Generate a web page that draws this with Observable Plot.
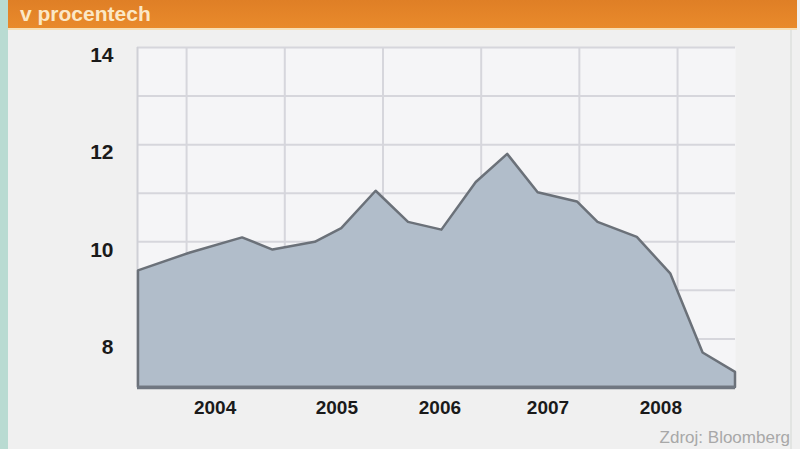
<!DOCTYPE html>
<html>
<head>
<meta charset="utf-8">
<script src="https://cdn.jsdelivr.net/npm/d3@7"></script>
<script src="https://cdn.jsdelivr.net/npm/@observablehq/plot@0.6"></script>
<style>
  html, body { margin: 0; padding: 0; background: #f0f0f0; }
  #wrap { position: relative; width: 800px; height: 449px; overflow: hidden; background: #f0f0f0; font-family: "Liberation Sans", Arial, sans-serif; }
  #strip { position: absolute; left: 0; top: 0; width: 8px; height: 449px; background: #b9dbd2; }
  #rightedge { position: absolute; left: 790px; top: 28px; width: 2px; height: 421px; background: #e2e4e2; }
  #header { position: absolute; left: 8px; top: 0; width: 789px; height: 28px; background: linear-gradient(#df7f26, #e98a2b); border-bottom: 2px solid #f7dfb6; }
  #title { position: absolute; left: 20px; top: 2px; color: #fbe8c6; font-weight: bold; font-size: 21px; line-height: 24px; }
  #chart { position: absolute; left: 0; top: 0; }
  #source { position: absolute; right: 10px; top: 428px; color: #a8a8a8; font-size: 17px; line-height: 20px; }
</style>
</head>
<body>
<div id="wrap">
  <div id="chart"></div>
  <div id="strip"></div>
  <div id="rightedge"></div>
  <div id="header"></div>
  <div id="title">v procentech</div>
  <div id="source">Zdroj: Bloomberg</div>
</div>
<script>
// Time (fractional year) and value in percent
const dates = [2003.51, 2004.04, 2004.57, 2004.88, 2005.31, 2005.58, 2005.93, 2006.26, 2006.60, 2006.95, 2007.27, 2007.58, 2007.98, 2008.19, 2008.59, 2008.93, 2009.26, 2009.59];
const values = [9.40, 9.77, 10.08, 9.83, 9.99, 10.27, 11.04, 10.40, 10.24, 11.22, 11.80, 11.01, 10.82, 10.40, 10.09, 9.34, 7.71, 7.31];
// Axis labels
const yTickLabels = [8, 10, 12, 14];
const yGrid = [8, 9, 10, 11, 12, 13, 14];
const xGrid = [2004, 2005, 2006, 2007, 2008, 2009];
const yearLabels = ["2004", "2005", "2006", "2007", "2008"];
const yearLabelPos = [2004.29, 2005.53, 2006.58, 2007.68, 2008.83];

const data = dates.map((d, i) => ({date: d, value: values[i]}));
const labels = yearLabels.map((t, i) => ({x: yearLabelPos[i], text: t}));

const chart = Plot.plot({
  width: 800,
  height: 449,
  marginTop: 47,
  marginBottom: 62,
  marginLeft: 137,
  marginRight: 65,
  style: {background: "transparent", fontFamily: "Liberation Sans, Arial, sans-serif"},
  x: {domain: [2003.5, 2009.59], axis: null},
  y: {domain: [7, 14], axis: null},
  marks: [
    Plot.frame({fill: "#f5f5f7", stroke: null}),
    Plot.ruleY(yGrid, {stroke: "#d6d6dc", strokeWidth: 2}),
    Plot.ruleX(xGrid, {stroke: "#d6d6dc", strokeWidth: 2}),
    Plot.ruleX([2003.5], {stroke: "#cfd0d6", strokeWidth: 2}),
    Plot.areaY(data, {x: "date", y1: 7, y2: "value", fill: "#b1bdca", stroke: "#6b7179", strokeWidth: 2.5, strokeLinejoin: "round"}),
    Plot.ruleY([7], {stroke: "#707781", strokeWidth: 3.5}),
    Plot.axisY(yTickLabels, {tickSize: 0, tickPadding: 24, fontSize: 21, fontWeight: "bold", dy: 8, fill: "#1a1a1a", tickFormat: d => String(d)}),
    Plot.text(labels, {x: "x", text: "text", frameAnchor: "bottom", dy: 26, fontSize: 19, fontWeight: "bold", fill: "#1a1a1a"})
  ]
});
document.getElementById("chart").appendChild(chart);
</script>
</body>
</html>
